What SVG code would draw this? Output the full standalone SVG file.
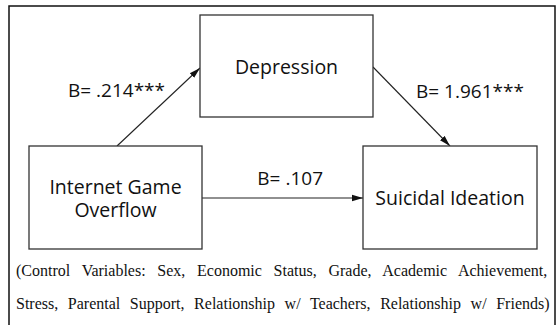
<svg xmlns="http://www.w3.org/2000/svg" width="560" height="325" viewBox="0 0 560 325">
<style>
.frame{fill:none;stroke:#111;stroke-width:1.5}
.box{fill:#fff;stroke:#333;stroke-width:1.3}
.lbl{font-family:"Open Sans","Noto Sans",sans-serif;font-size:19.5px;fill:#111}
.coef{font-family:"Open Sans","Noto Sans",sans-serif;font-size:19px;fill:#111}
.cap{font-family:"Liberation Serif","Times New Roman",serif;font-size:16px;fill:#111}
.conn{stroke:#222;stroke-width:1.1;fill:none;marker-end:url(#ah)}
</style>
<defs>
<marker id="ah" markerUnits="userSpaceOnUse" markerWidth="12" markerHeight="8" refX="11" refY="4" orient="auto">
<path d="M0,0.8 L11,4 L0,7.2 Z" fill="#111"/>
</marker>
</defs>
<rect width="560" height="325" fill="#fff"/>
<rect class="frame" x="9" y="6" width="546" height="340"/>
<g id="connectors">
<line class="conn" x1="117" y1="146" x2="200" y2="68"/>
<line class="conn" x1="373" y1="67" x2="450" y2="146"/>
<line class="conn" x1="202" y1="198" x2="363" y2="198"/>
<text class="coef" x="68" y="97">B= .214***</text>
<text class="coef" x="416" y="98">B= 1.961***</text>
<text class="coef" x="323" y="185" text-anchor="end">B= .107</text>
</g>
<g id="depression">
<rect class="box" x="200" y="15" width="173" height="102"/>
<text class="lbl" x="286.5" y="74" text-anchor="middle">Depression</text>
</g>
<g id="internet-game-overflow">
<rect class="box" x="29" y="146" width="173" height="103"/>
<text class="lbl" x="115.5" y="194" text-anchor="middle">Internet Game</text>
<text class="lbl" x="115.5" y="217" text-anchor="middle">Overflow</text>
</g>
<g id="suicidal-ideation">
<rect class="box" x="363" y="146" width="174" height="103"/>
<text class="lbl" x="450" y="205" text-anchor="middle">Suicidal Ideation</text>
</g>
<g id="caption">
<text class="cap" x="16" y="276" word-spacing="7.7">(Control Variables: Sex, Economic Status, Grade, Academic Achievement,</text>
<text class="cap" x="16" y="309" word-spacing="5.6">Stress, Parental Support, Relationship w/ Teachers, Relationship w/ Friends)</text>
</g>
</svg>
